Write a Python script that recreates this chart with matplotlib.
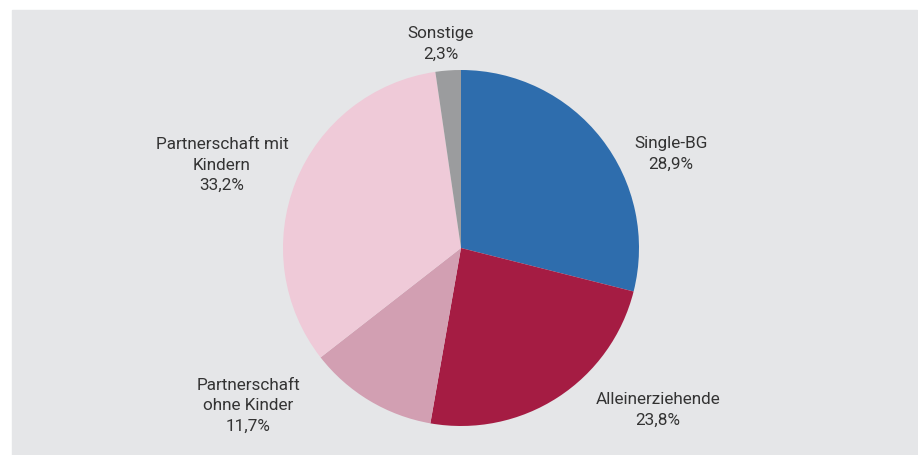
import matplotlib.pyplot as plt
from matplotlib.patches import Rectangle

categories = ["Single-BG", "Alleinerziehende", "Partnerschaft\nohne Kinder",
              "Partnerschaft mit\nKindern", "Sonstige"]
shares = [28.9, 23.8, 11.7, 33.2, 2.3]
colors = ["#2e6dad", "#a51c43", "#d29fb2", "#efcad8", "#9b9c9e"]

# label centres in pixel coordinates (x, y from top)
label_pos = [(671, 154), (658, 410), (248, 406), (222, 165), (441, 44)]

W, H = 918, 456
fig = plt.figure(figsize=(W / 100, H / 100), dpi=100)
ax = fig.add_axes([0, 0, 1, 1])

ax.add_patch(Rectangle((12, 0), 905, H - 11, color="#e5e6e8", zorder=0))

ax.pie(shares, colors=colors, startangle=90, counterclock=False,
       center=(461, H - 249), radius=178, frame=True,
       wedgeprops=dict(linewidth=0))
ax.set_xlim(0, W)
ax.set_ylim(0, H)
ax.set_aspect("equal")
ax.axis("off")

for cat, val, (x, y) in zip(categories, shares, label_pos):
    txt = f"{cat}\n{val:.1f}%".replace(".", ",")
    ax.text(x, H - y, txt, ha="center", va="center", fontsize=12.3,
            color="#333333", family="Roboto", linespacing=1.42)

fig.savefig("out.png", dpi=100)
